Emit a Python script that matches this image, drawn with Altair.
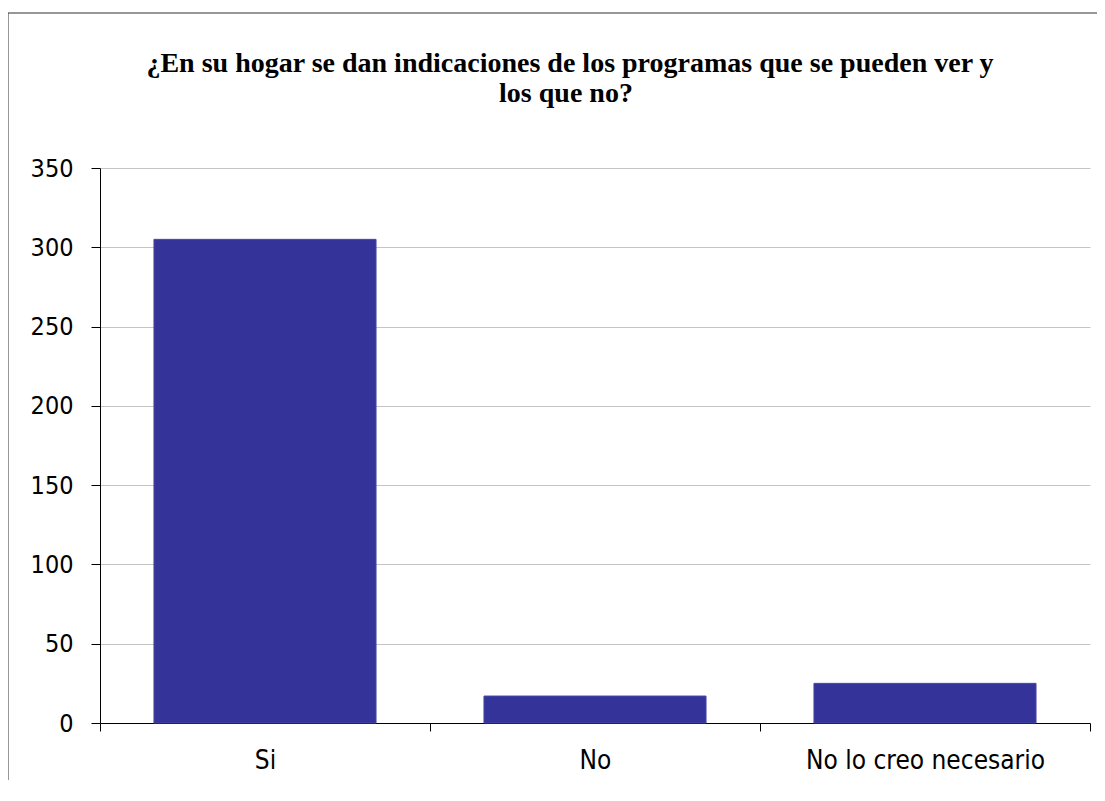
import altair as alt
import pandas as pd

categories = ["Si", "No", "No lo creo necesario"]
values = [305, 17, 25]
title_lines = ["¿En su hogar se dan indicaciones de los programas que se pueden ver y",
               "los que no?"]

df = pd.DataFrame({"cat": categories, "val": values})

bars = alt.Chart(df).mark_bar(color="#333399", stroke="#4a4aa8", strokeWidth=1,
                              width=alt.RelativeBandSize(0.673)).encode(
    x=alt.X("cat:N", sort=categories, title=None,
            scale=alt.Scale(paddingInner=0, paddingOuter=0),
            axis=alt.Axis(labelAngle=0, tickBand="extent", grid=False,
                          labelFont="DejaVu Sans Condensed", labelFontSize=26,
                          labelColor="#000000", labelPadding=16, labelLimit=400,
                          domainColor="#000000", tickColor="#000000",
                          tickSize=8, labelFontWeight="normal")),
    y=alt.Y("val:Q", title=None,
            scale=alt.Scale(domain=[0, 350], nice=False),
            axis=alt.Axis(values=[0, 50, 100, 150, 200, 250, 300, 350],
                          labelFont="DejaVu Sans Condensed", labelFontSize=25,
                          labelColor="#000000", labelPadding=18,
                          domainColor="#000000", tickColor="#000000",
                          tickSize=9, gridColor="#c4c4c4", gridWidth=1)),
)

frame_data = alt.Data(values=[{"k": 1}])
left_line = alt.Chart(frame_data).mark_rule(color="#303030", strokeWidth=1).encode(
    x=alt.value(-92), y=alt.value(-155), y2=alt.value(700))
top_line = alt.Chart(frame_data).mark_rule(color="#303030", strokeWidth=1).encode(
    x=alt.value(-92), x2=alt.value(1100), y=alt.value(-155))

title1 = alt.Chart(frame_data).mark_text(
    font="Liberation Serif", fontSize=28, fontWeight="bold", color="#000000",
    align="center", baseline="alphabetic").encode(
    x=alt.value(470), y=alt.value(-96), text=alt.value(title_lines[0]))
title2 = alt.Chart(frame_data).mark_text(
    font="Liberation Serif", fontSize=28, fontWeight="bold", color="#000000",
    align="center", baseline="alphabetic").encode(
    x=alt.value(466), y=alt.value(-66), text=alt.value(title_lines[1]))

chart = alt.layer(bars, left_line, top_line, title1, title2).properties(
    width=990, height=555,
    autosize=alt.AutoSizeParams(type="none"),
    padding={"left": 92, "top": 160, "right": 7, "bottom": 57},
).configure_view(stroke=None).configure_axis(domainWidth=1, tickWidth=1)

chart.save("out.html", embed_options={"renderer": "svg", "actions": False})
